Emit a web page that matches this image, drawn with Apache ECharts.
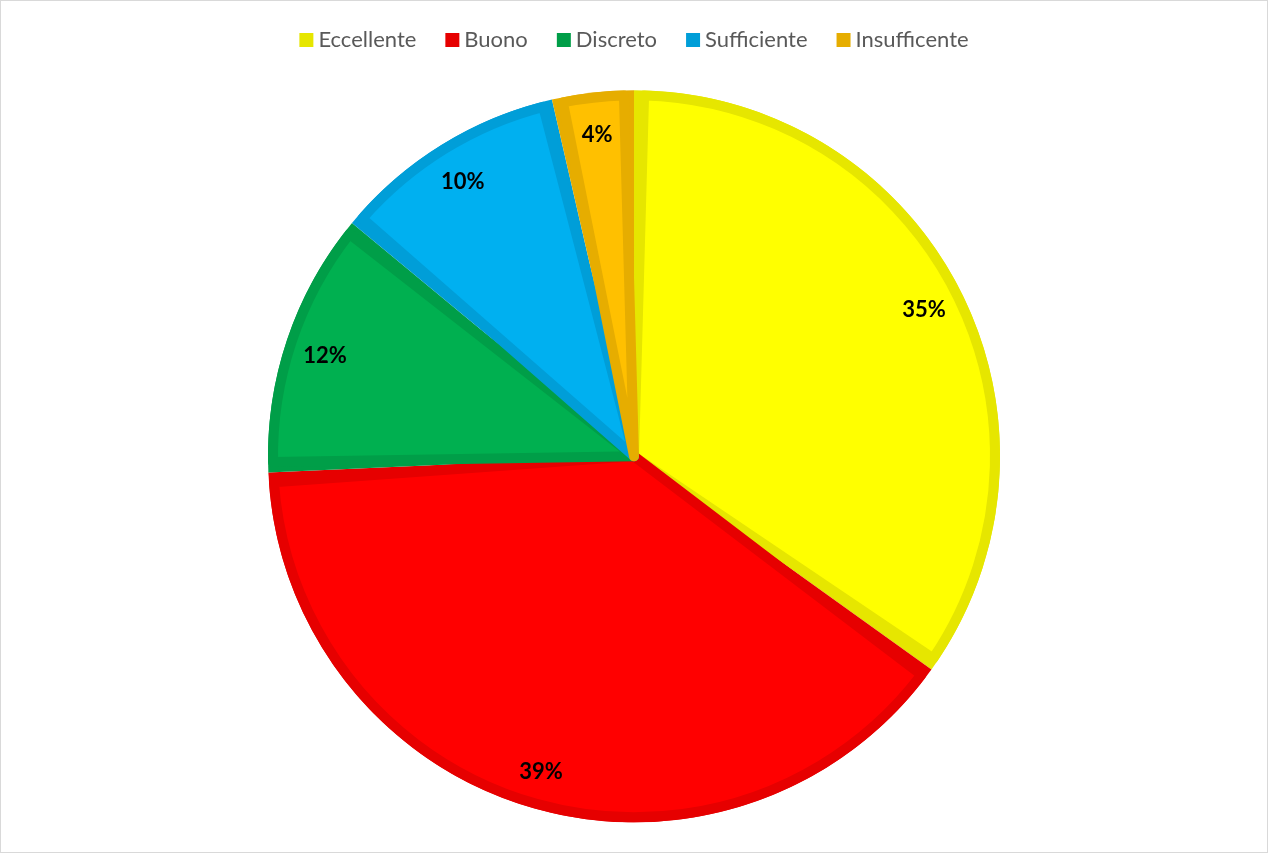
<!DOCTYPE html>
<html>
<head>
<meta charset="utf-8">
<script src="https://cdn.jsdelivr.net/npm/echarts@6/dist/echarts.min.js"></script>
<style>
html,body{margin:0;padding:0;background:#fff;}
#c{width:1268px;height:853px;box-sizing:border-box;border:1px solid #d9d9d9;}
</style>
</head>
<body>
<div id="c"></div>
<script>
const categories = ['Eccellente', 'Buono', 'Discreto', 'Sufficiente', 'Insufficente'];
const values = [34.9, 39.4, 11.7, 10.4, 3.6];
const fillColors = ['#FFFF00', '#FF0000', '#00B050', '#00B0F0', '#FFC000'];
const edgeColors = ['#E6E600', '#E60000', '#009E48', '#009ED8', '#E6AD00'];

const chart = echarts.init(document.getElementById('c'), null, {renderer: 'canvas'});
const font = 'Lato, "Open Sans", "Liberation Sans", sans-serif';
const center = ['50%', '53.5%'];

chart.setOption({
  animation: false,
  backgroundColor: '#ffffff',
  legend: {
    top: 23,
    left: 'center',
    itemWidth: 14,
    itemHeight: 14,
    itemGap: 29,
    icon: 'rect',
    textStyle: {fontSize: 22, color: '#595959', fontFamily: font},
    data: categories.map((n, i) => ({name: n, itemStyle: {color: edgeColors[i]}}))
  },
  series: [
    {
      type: 'pie', silent: true, center: center, radius: 366, startAngle: 90,
      label: {show: false}, labelLine: {show: false},
      data: categories.map((n, i) => ({name: n, value: values[i], itemStyle: {color: edgeColors[i]}}))
    },
    {
      type: 'pie', silent: true, center: center, radius: 361, startAngle: 90, padAngle: 3.2,
      label: {show: false}, labelLine: {show: false},
      data: categories.map((n, i) => ({name: n, value: values[i],
        itemStyle: {color: fillColors[i], borderColor: edgeColors[i], borderWidth: 10, borderJoin: 'round'}}))
    },
    {
      type: 'pie', silent: true, center: center, radius: [280, 366], startAngle: 90,
      itemStyle: {color: 'rgba(0,0,0,0)'},
      labelLine: {show: false},
      label: {
        show: true, position: 'inside', color: '#000', fontWeight: 'bold', fontSize: 22, fontFamily: font,
        offset: [0, 3],
        formatter: p => Math.round(p.percent) + '%'
      },
      data: categories.map((n, i) => ({name: n, value: values[i]}))
    }
  ]
});
</script>
</body>
</html>
